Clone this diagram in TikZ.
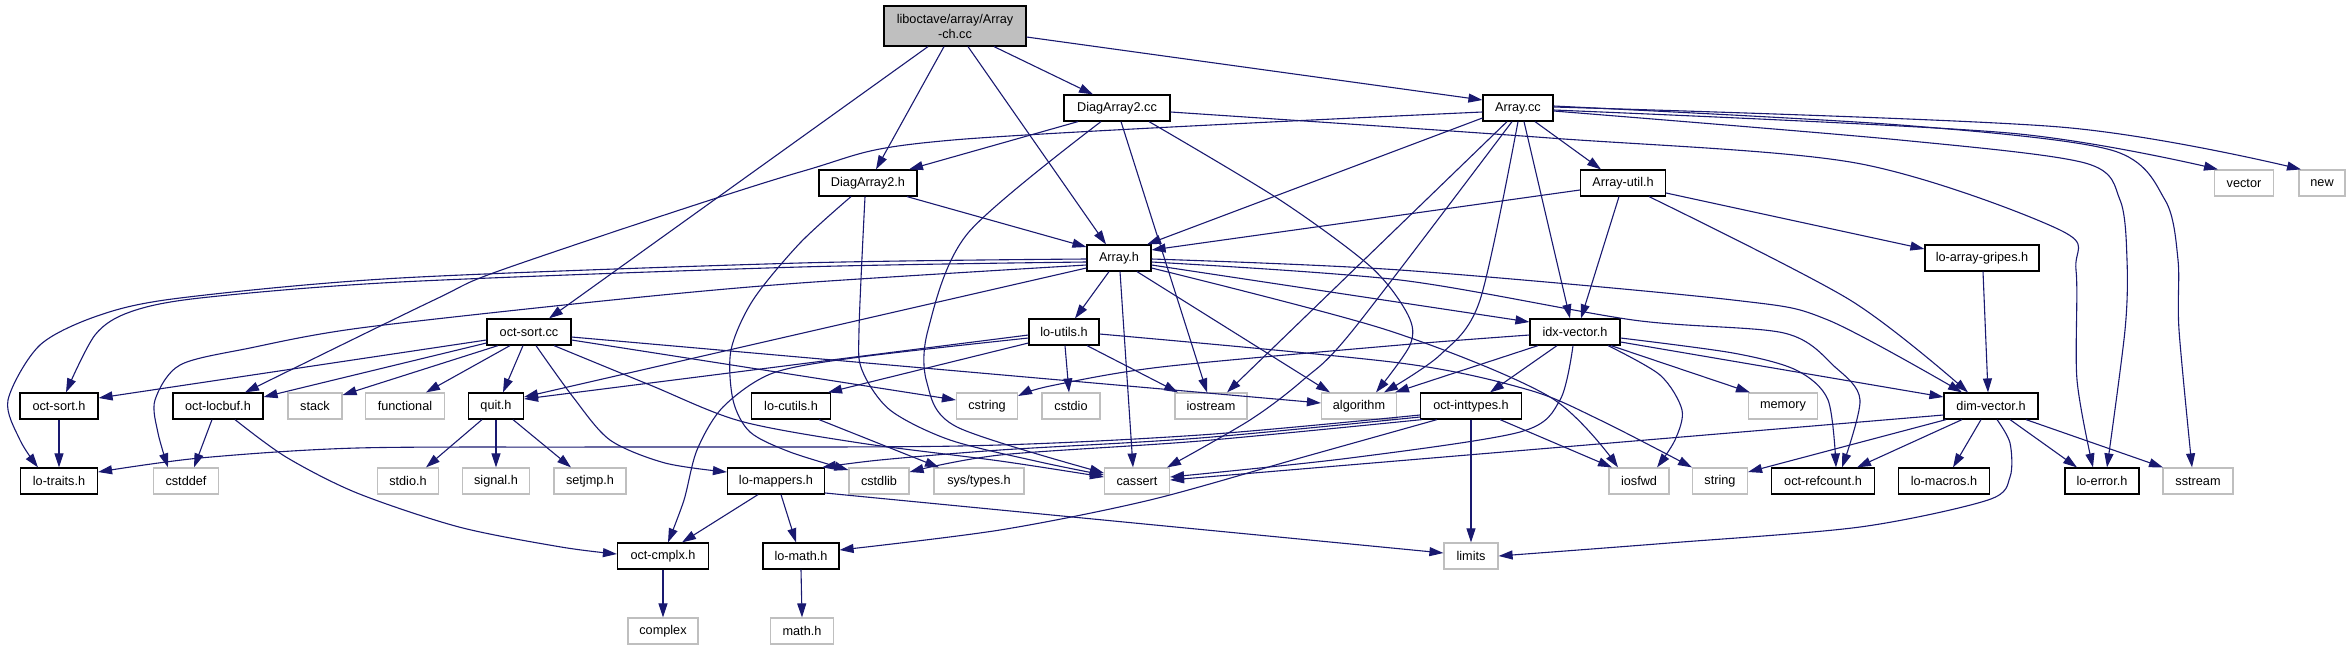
\documentclass[tikz,border=0pt]{standalone}
\usepackage{fontspec}
\setmainfont{Liberation Sans}
\usetikzlibrary{arrows.meta}
\definecolor{edgec}{HTML}{191970}
\definecolor{graybd}{HTML}{BFBFBF}
\newcommand\gfont{\fontsize{12.7pt}{15pt}\selectfont}
\tikzset{
  nb/.style={draw=black, line width=1.2pt, fill=white, minimum height=26pt, inner sep=0pt, font=\gfont},
  ng/.style={nb, draw=graybd},
  nr/.style={nb, fill=graybd, minimum height=40pt, align=center},
  e/.style={draw=edgec, line width=1.1pt, -{Triangle[length=14pt,width=9pt]}, fill=none},
}
\begin{document}
\begin{tikzpicture}[x=1pt,y=-1pt]
\useasboundingbox (0,0) rectangle (2350,649);
% nodes
\node[nr,minimum width=142pt] (root) at (955,26) {liboctave/array/Array\\-ch.cc};
\node[nb,minimum width=106pt] (d2cc) at (1117,108) {DiagArray2.cc};
\node[nb,minimum width=70pt] (acc) at (1518,108) {Array.cc};
\node[nb,minimum width=98pt] (d2h) at (868,183) {DiagArray2.h};
\node[nb,minimum width=85pt] (autil) at (1623,183) {Array-util.h};
\node[ng,minimum width=59pt] (vector) at (2244,183) {vector};
\node[ng,minimum width=46pt] (new) at (2322,183) {new};
\node[nb,minimum width=64pt] (ah) at (1119,258) {Array.h};
\node[nb,minimum width=114pt] (gripes) at (1982,258) {lo-array-gripes.h};
\node[nb,minimum width=84pt] (oscc) at (529,332) {oct-sort.cc};
\node[nb,minimum width=70pt] (lutils) at (1064,332) {lo-utils.h};
\node[nb,minimum width=90pt] (idx) at (1575,332) {idx-vector.h};
\node[nb,minimum width=78pt] (osh) at (59,406) {oct-sort.h};
\node[nb,minimum width=90pt] (locbuf) at (218,406) {oct-locbuf.h};
\node[ng,minimum width=54pt] (stack) at (315,406) {stack};
\node[ng,minimum width=79pt] (functional) at (405,406) {functional};
\node[nb,minimum width=55pt] (quit) at (496,406) {quit.h};
\node[nb,minimum width=79pt] (lcutils) at (791,406) {lo-cutils.h};
\node[ng,minimum width=61pt] (cstring) at (987,406) {cstring};
\node[ng,minimum width=58pt] (cstdio) at (1071,406) {cstdio};
\node[ng,minimum width=72pt] (iostream) at (1211,406) {iostream};
\node[ng,minimum width=75pt] (algorithm) at (1359,406) {algorithm};
\node[nb,minimum width=101pt] (inttypes) at (1471,406) {oct-inttypes.h};
\node[ng,minimum width=69pt] (memory) at (1783,406) {memory};
\node[nb,minimum width=94pt] (dimv) at (1991,406) {dim-vector.h};
\node[nb,minimum width=77pt] (traits) at (59,481) {lo-traits.h};
\node[ng,minimum width=65pt] (cstddef) at (186,481) {cstddef};
\node[ng,minimum width=61pt] (stdio) at (408,481) {stdio.h};
\node[ng,minimum width=67pt] (signal) at (496,481) {signal.h};
\node[ng,minimum width=72pt] (setjmp) at (590,481) {setjmp.h};
\node[nb,minimum width=97pt] (mappers) at (776,481) {lo-mappers.h};
\node[ng,minimum width=60pt] (cstdlib) at (879,481) {cstdlib};
\node[ng,minimum width=90pt] (systypes) at (979,481) {sys/types.h};
\node[ng,minimum width=65pt] (cassert) at (1137,481) {cassert};
\node[ng,minimum width=60pt] (iosfwd) at (1639,481) {iosfwd};
\node[ng,minimum width=55pt] (string) at (1720,481) {string};
\node[nb,minimum width=103pt] (refcount) at (1823,481) {oct-refcount.h};
\node[nb,minimum width=91pt] (macros) at (1944,481) {lo-macros.h};
\node[nb,minimum width=74pt] (loerror) at (2102,481) {lo-error.h};
\node[ng,minimum width=70pt] (sstream) at (2198,481) {sstream};
\node[nb,minimum width=91pt] (cmplx) at (663,556) {oct-cmplx.h};
\node[nb,minimum width=76pt] (lomath) at (801,556) {lo-math.h};
\node[ng,minimum width=54pt] (limits) at (1471,556) {limits};
\node[ng,minimum width=70pt] (complex) at (663,631) {complex};
\node[ng,minimum width=63pt] (mathh) at (802,631) {math.h};
% root
\draw[e] ([xshift=-27pt]root.south) -- ([xshift=20pt]oscc.north);
\draw[e] ([xshift=-11pt]root.south) -- ([xshift=8pt]d2h.north);
\draw[e] ([xshift=13pt]root.south) -- ([xshift=-13pt]ah.north);
\draw[e] ([xshift=39pt]root.south) -- ([xshift=-24pt]d2cc.north);
\draw[e] ([yshift=-11pt]root.east) -- ([yshift=8pt]acc.west);
% DiagArray2.cc
\draw[e] ([xshift=-39pt]d2cc.south) -- ([xshift=41pt]d2h.north);
\draw[e] plot[smooth] coordinates {([xshift=-16pt]d2cc.south) (968,233) (928,330) (927,383) (957,427) ([yshift=8pt]cassert.west)};
\draw[e] ([xshift=4pt]d2cc.south) -- ([xshift=-4pt]iostream.north);
\draw[e] plot[smooth] coordinates {([xshift=32pt]d2cc.south) (1280,200) (1371,267) (1408,315) (1410,345) ([xshift=17pt]algorithm.north)};
\draw[e] plot[smooth] coordinates {([yshift=-4pt]d2cc.east) (1550,138) (1856,163) (2060,230) (2076,270) (2077,380) ([xshift=-9pt]loerror.north)};
% Array.cc
\draw[e] plot[smooth] coordinates {([yshift=-4pt]acc.west) (953,140) (800,172) (510,267) (434,300) ([xshift=27pt]locbuf.north)};
\draw[e] ([yshift=-10pt]acc.west) -- ([xshift=28pt]ah.north);
\draw[e] ([xshift=-11pt]acc.south) -- ([xshift=16pt]iostream.north);
\draw[e] plot[smooth] coordinates {([xshift=-6pt]acc.south) (1353,330) (1303,380) (1250,420) ([xshift=30pt]cassert.north)};
\draw[e] plot[smooth] coordinates {(acc.south) (1480,300) (1440,355) ([xshift=25pt]algorithm.north)};
\draw[e] ([xshift=6pt]acc.south) -- ([xshift=-5pt]idx.north);
\draw[e] ([xshift=17pt]acc.south) -- ([xshift=-22pt]autil.north);
\draw[e] plot[smooth] coordinates {([yshift=-2pt]acc.east) (2009,133) ([xshift=-26pt]vector.north)};
\draw[e] plot[smooth] coordinates {([yshift=1pt]acc.east) (2060,127) ([xshift=-21pt]new.north)};
\draw[e] plot[smooth] coordinates {([yshift=-3pt]acc.east) (1900,140) (2085,163) (2120,200) (2127,260) (2125,330) ([xshift=5pt]loerror.north)};
\draw[e] plot[smooth] coordinates {([yshift=2pt]acc.east) (1900,125) (2111,150) (2165,200) (2178,260) (2179,330) ([xshift=-6pt]sstream.north)};
% DiagArray2.h
\draw[e] ([xshift=39pt]d2h.south) -- ([yshift=11pt]ah.west);
\draw[e] plot[smooth] coordinates {([xshift=-17pt]d2h.south) (800,243) (753,300) (731,350) (733,400) (750,432) (790,452) ([yshift=11pt]cstdlib.west)};
\draw[e] plot[smooth] coordinates {([xshift=-3pt]d2h.south) (859,330) (862,370) (890,410) (950,440) (1040,462) ([yshift=6pt]cassert.west)};
% Array.h
\draw[e] plot[smooth] coordinates {([yshift=-4pt]ah.west) (800,267) (400,282) (200,298) (130,312) (95,335) ([xshift=7pt]osh.north)};
\draw[e] plot[smooth] coordinates {([yshift=-1pt]ah.west) (800,263) (400,278) (180,298) (100,315) (40,345) (8,400) (20,440) ([xshift=-21pt]traits.north)};
\draw[e] plot[smooth] coordinates {([yshift=-7pt]ah.west) (800,283) (612,300) (360,328) (250,348) (180,365) (155,400) (158,433) ([xshift=-18pt]cstddef.north)};
\draw[e] ([yshift=-10pt]ah.west) -- ([yshift=9pt]quit.east);
\draw[e] ([xshift=-10pt]ah.south) -- ([xshift=11pt]lutils.north);
\draw[e] ([xshift=1pt]ah.south) -- ([xshift=-4pt]cassert.north);
\draw[e] ([xshift=18pt]ah.south) -- ([xshift=-29pt]algorithm.north);
\draw[e] ([yshift=-7pt]ah.east) -- ([yshift=10pt]idx.west);
\draw[e] plot[smooth] coordinates {([yshift=-1pt]ah.east) (1400,270) (1733,300) (1828,320) ([xshift=-29pt]dimv.north)};
\draw[e] plot[smooth] coordinates {([yshift=-4pt]ah.east) (1400,280) (1633,320) (1784,333) (1835,367) (1860,400) ([xshift=19pt]refcount.north)};
\draw[e] plot[smooth] coordinates {([yshift=-10pt]ah.east) (1387,330) (1550,397) ([xshift=-21pt]iosfwd.north)};
% Array-util.h
\draw[e] ([yshift=-7pt]autil.west) -- ([yshift=8pt]ah.east);
\draw[e] ([xshift=-4pt]autil.south) -- ([xshift=6pt]idx.north);
\draw[e] plot[smooth] coordinates {([xshift=26pt]autil.south) (1850,300) ([xshift=-23pt]dimv.north)};
\draw[e] ([yshift=-10pt]autil.east) -- ([yshift=9pt]gripes.west);
\draw[e] ([xshift=1pt]gripes.south) -- ([xshift=-3pt]dimv.north);
% oct-sort.cc
\draw[e] ([yshift=-8pt]oscc.west) -- ([yshift=8pt]osh.east);
\draw[e] ([yshift=-11pt]oscc.west) -- ([yshift=9pt]locbuf.east);
\draw[e] ([xshift=-31pt]oscc.south) -- ([yshift=11pt]stack.east);
\draw[e] ([xshift=-19pt]oscc.south) -- ([xshift=21pt]functional.north);
\draw[e] ([xshift=-6pt]oscc.south) -- ([xshift=7pt]quit.north);
\draw[e] plot[smooth] coordinates {([xshift=7pt]oscc.south) (573,397) (610,440) (665,463) ([yshift=9pt]mappers.west)};
\draw[e] plot[smooth] coordinates {([xshift=25pt]oscc.south) (650,385) (740,421) (860,443) (1000,461) ([yshift=4pt]cassert.west)};
\draw[e] ([yshift=-5pt]oscc.east) -- ([yshift=3pt]algorithm.west);
\draw[e] ([yshift=-8pt]oscc.east) -- ([yshift=6pt]cstring.west);
% lo-utils.h
\draw[e] ([yshift=-3pt]lutils.west) -- ([yshift=7pt]quit.east);
\draw[e] plot[smooth] coordinates {([yshift=-6pt]lutils.west) (860,357) (773,373) (723,407) (697,450) (684,500) ([xshift=5pt]cmplx.north)};
\draw[e] ([yshift=-11pt]lutils.west) -- ([xshift=37pt]lcutils.north);
\draw[e] ([xshift=1pt]lutils.south) -- ([xshift=-2pt]cstdio.north);
\draw[e] ([xshift=23pt]lutils.south) -- ([xshift=-33pt]iostream.north);
\draw[e] plot[smooth] coordinates {([yshift=-2pt]lutils.east) (1400,363) (1529,390) (1600,420) ([xshift=-28pt]string.north)};
\draw[e] ([xshift=28pt]lcutils.south) -- ([xshift=-40pt]systypes.north);
% idx-vector.h
\draw[e] plot[smooth] coordinates {([yshift=-3pt]idx.west) (1400,345) (1161,367) (1050,386) ([yshift=10pt]cstring.east)};
\draw[e] ([xshift=-37pt]idx.south) -- ([xshift=36pt]algorithm.north);
\draw[e] ([xshift=-18pt]idx.south) -- ([xshift=19pt]inttypes.north);
\draw[e] plot[smooth] coordinates {([xshift=-2pt]idx.south) (1560,400) (1520,432) (1350,458) ([yshift=4pt]cassert.east)};
\draw[e] plot[smooth] coordinates {([xshift=33pt]idx.south) (1660,375) (1682,410) (1675,440) ([xshift=18pt]iosfwd.north)};
\draw[e] ([xshift=36pt]idx.south) -- ([xshift=-33pt]memory.north);
\draw[e] ([yshift=-10pt]idx.east) -- ([yshift=9pt]dimv.west);
\draw[e] plot[smooth] coordinates {([yshift=-6pt]idx.east) (1733,353) (1796,370) (1828,400) ([xshift=13pt]refcount.north)};
% dim-vector.h
\draw[e] ([yshift=-9pt]dimv.west) -- ([yshift=1pt]cassert.east);
\draw[e] ([xshift=-45pt]dimv.south) -- ([yshift=9pt]string.east);
\draw[e] ([xshift=-29pt]dimv.south) -- ([xshift=34pt]refcount.north);
\draw[e] ([xshift=-10pt]dimv.south) -- ([xshift=9pt]macros.north);
\draw[e] plot[smooth] coordinates {([xshift=6pt]dimv.south) (2010,443) (2010,477) (1988,500) (1860,527) (1669,543) (limits.east)};
\draw[e] ([xshift=19pt]dimv.south) -- ([xshift=-25pt]loerror.north);
\draw[e] ([xshift=35pt]dimv.south) -- ([xshift=-35pt]sstream.north);
% oct-inttypes.h
\draw[e] plot[smooth] coordinates {([yshift=-9pt]inttypes.west) (1200,435) (960,446) (600,447) (357,448) (200,458) ([yshift=9pt]traits.east)};
\draw[e] plot[smooth] coordinates {([yshift=-11pt]inttypes.west) (1200,438) (1000,450) (880,460) ([xshift=46pt]mappers.north)};
\draw[e] plot[smooth] coordinates {([xshift=-49pt]inttypes.south) (1200,441) (1000,455) ([yshift=9pt]cstdlib.east)};
\draw[e] plot[smooth] coordinates {([xshift=-34pt]inttypes.south) (1300,458) (1150,500) (1000,530) ([yshift=6pt]lomath.east)};
\draw[e] (inttypes.south) -- (limits.north);
\draw[e] ([xshift=29pt]inttypes.south) -- ([xshift=-27pt]iosfwd.north);
% lo-mappers.h
\draw[e] ([xshift=-18pt]mappers.south) -- ([xshift=19pt]cmplx.north);
\draw[e] ([xshift=5pt]mappers.south) -- ([xshift=-5pt]lomath.north);
\draw[e] ([yshift=-12pt]mappers.east) -- ([yshift=3pt]limits.west);
% others
\draw[e] ([xshift=-14pt]quit.south) -- ([xshift=18pt]stdio.north);
\draw[e] (quit.south) -- (signal.north);
\draw[e] ([xshift=17pt]quit.south) -- ([xshift=-19pt]setjmp.north);
\draw[e] (osh.south) -- (traits.north);
\draw[e] ([xshift=-6pt]locbuf.south) -- ([xshift=8pt]cstddef.north);
\draw[e] plot[smooth] coordinates {([xshift=17pt]locbuf.south) (286,457) (357,493) (459,527) (561,547) ([yshift=2pt]cmplx.west)};
\draw[e] (cmplx.south) -- (complex.north);
\draw[e] (lomath.south) -- (mathh.north);
\end{tikzpicture}
\end{document}
